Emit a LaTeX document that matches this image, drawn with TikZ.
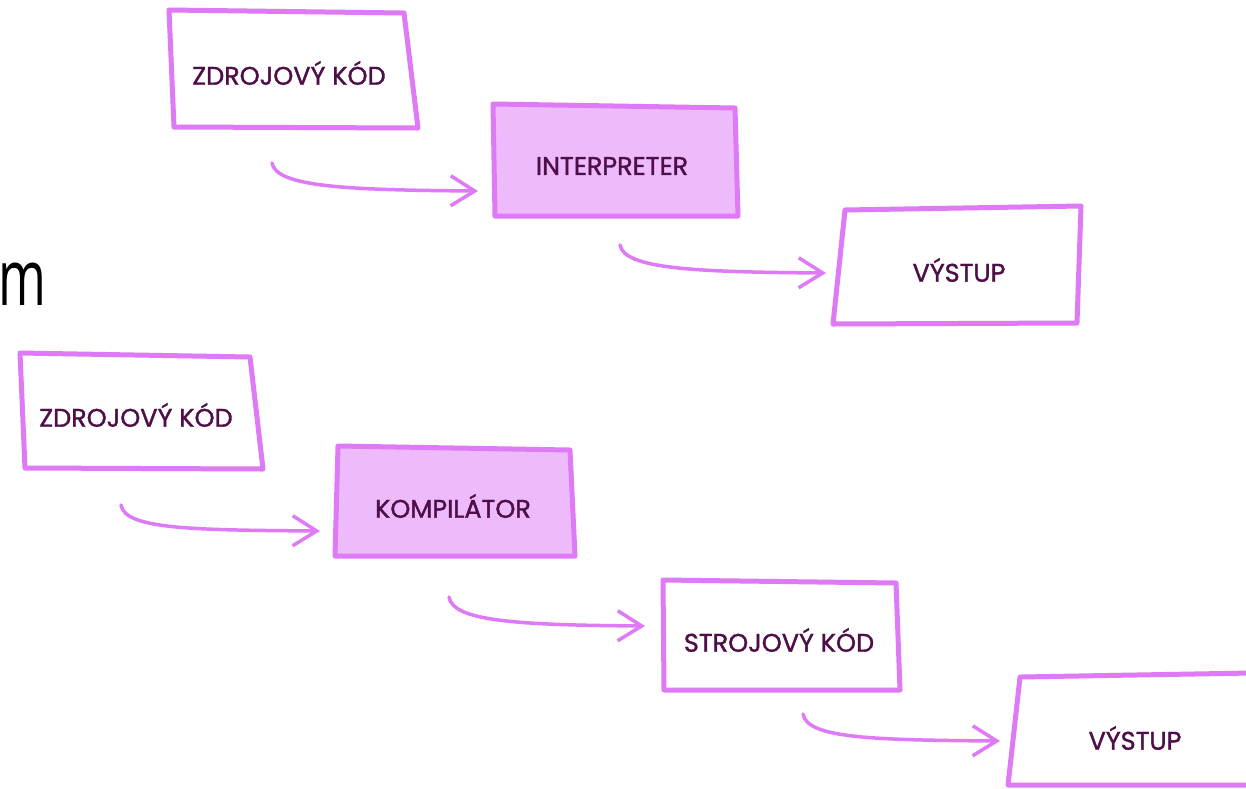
\documentclass[tikz,border=0pt]{standalone}
\usepackage{fontspec}
\setmainfont{Poppins}
\newfontfamily\lblfont{Poppins}[FakeBold=1.4]
\newfontfamily\thinfont{Open Sans}
\usetikzlibrary{arrows.meta}
\definecolor{edge}{RGB}{222,122,245}
\definecolor{boxfill}{RGB}{237,187,252}
\definecolor{ink}{RGB}{78,14,72}
\tikzset{
  box/.style={draw=edge, line width=5pt, line join=round, fill=white},
  hot/.style={draw=edge, line width=5pt, line join=round, fill=boxfill},
  lbl/.style={font=\lblfont\fontsize{25.5}{28}\selectfont, text=ink, inner sep=0pt},
  flow/.style={draw=edge, line width=3.5pt, line cap=round,
    -{Straight Barb[length=24pt,width=30pt,line width=3.5pt]}}
}
\begin{document}
\begin{tikzpicture}[x=1pt,y=-1pt]
\useasboundingbox[fill=white] (0,0) rectangle (1246,788);
% fragment of text at left
\node[font=\thinfont\fontsize{78}{80}\selectfont, anchor=base east, inner sep=0pt, xscale=0.66] (frag) at (47,305) {m};
% boxes
\draw[box] (169,10) -- (404,13) -- (418,128) -- (174,127) -- cycle;
\node[lbl] (src1) at (289,73) {ZDROJOVÝ KÓD};
\draw[hot] (493,104) -- (735,108) -- (738,216) -- (495,216) -- cycle;
\node[lbl] (int) at (612,166) {INTERPRETER};
\draw[box] (845,210) -- (1081,206) -- (1077,323) -- (833,324) -- cycle;
\node[lbl] (out1) at (959,270) {VÝSTUP};
\draw[box] (20,353) -- (250,357) -- (263,469) -- (25,468) -- cycle;
\node[lbl] (src2) at (136,415) {ZDROJOVÝ KÓD};
\draw[hot] (338,446) -- (570,450) -- (575,556) -- (335,556) -- cycle;
\node[lbl] (comp) at (453,506) {KOMPILÁTOR};
\draw[box] (663,580) -- (896,583) -- (900,690) -- (664,690) -- cycle;
\node[lbl] (mach) at (779,640) {STROJOVÝ KÓD};
\draw[box] (1020,677) -- (1252,673) -- (1252,785) -- (1008,785) -- cycle;
\node[lbl] (out2) at (1135,738) {VÝSTUP};
% arrow anchors
\coordinate (a1s) at (272,163); \coordinate (a1e) at (478,191);
\coordinate (a2s) at (620,245); \coordinate (a2e) at (826,273);
\coordinate (a3s) at (121,505); \coordinate (a3e) at (320,531);
\coordinate (a4s) at (449,597); \coordinate (a4e) at (645,626);
\coordinate (a5s) at (803,714); \coordinate (a5e) at (1000,741);
\foreach \s/\e in {a1s/a1e,a2s/a2e,a3s/a3e,a4s/a4e,a5s/a5e}{
  \draw[flow] (\s) .. controls ([shift={(4,24)}]\s) and ([shift={(-130,-1)}]\e) .. (\e);
}
\end{tikzpicture}
\end{document}
